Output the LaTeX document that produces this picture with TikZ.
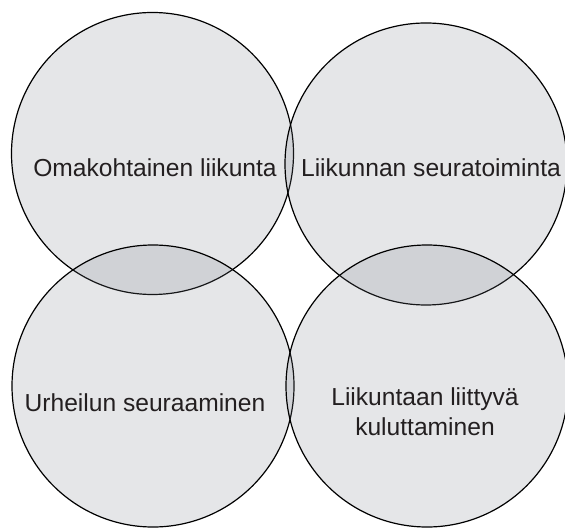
\documentclass[tikz,border=0pt]{standalone}
\usepackage{fontspec}
\setmainfont{Liberation Sans}
\usepackage{tikz}
\usetikzlibrary{positioning, calc}
\definecolor{venngray}{RGB}{118,123,134}
\definecolor{textgray}{HTML}{231F20}

\begin{document}
\begin{tikzpicture}[
    x=0.5pt, y=-0.5pt,
    every node/.style={font=\fontsize{12.3}{15}\selectfont, text=textgray},
    area/.style={circle, draw=black, line width=0.6pt, fill=venngray, fill opacity=0.19, text opacity=1, minimum size=141pt, inner sep=0pt},
    lbl/.style={align=center, inner sep=0pt}
]
    \useasboundingbox (0,0) rectangle (565,528);

    % Circles
    \node[area] (own) at (152.5,153.5) {};
    \node[area] (club) at (426,164) {};
    \node[area] (watch) at (153,386) {};
    \node[area] (consume) at (427,386) {};

    % Labels
    \node[lbl] (ownlbl) at (155,168) {Omakohtainen liikunta};
    \node[lbl] (clublbl) at (431,168) {Liikunnan seuratoiminta};
    \node[lbl] (watchlbl) at (145,403) {Urheilun seuraaminen};
    \node[lbl] (consumelbl) at (425,412) {Liikuntaan liittyvä\\kuluttaminen};
\end{tikzpicture}
\end{document}
